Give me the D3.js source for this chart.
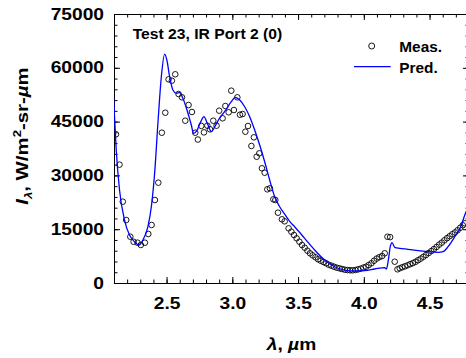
<!doctype html>
<html>
<head>
<script type='text/javascript' src='https://d3js.org/d3.v7.min.js'></script>
<style>
body { margin: 0; background: #fff; }
text { font-family: 'Liberation Sans', Arial, sans-serif; font-weight: bold; fill: #000; }
</style>
</head>
<body>
<script>
var width = 466, height = 358;
var margin = {left: 114, top: 14, right: 469, bottom: 283};

// measured spectrum (open circles)
var measLam = [2.115, 2.142, 2.167, 2.193, 2.224, 2.249, 2.279, 2.304, 2.335, 2.361,
  2.386, 2.411, 2.437, 2.464, 2.490, 2.515, 2.540, 2.566, 2.591, 2.617,
  2.642, 2.667, 2.693, 2.718, 2.738, 2.764, 2.784, 2.810, 2.830, 2.855,
  2.880, 2.900, 2.926, 2.947, 2.972, 2.992, 3.012, 3.038, 3.058, 3.078,
  3.099, 3.119, 3.145, 3.164, 3.185, 3.205, 3.225, 3.246, 3.266, 3.286,
  3.312, 3.327, 3.347, 3.377, 3.398, 3.428, 3.449, 3.469, 3.489, 3.510,
  3.530, 3.550, 3.571, 3.591, 3.611, 3.632, 3.652, 3.672, 3.693, 3.713,
  3.733, 3.753, 3.773, 3.794, 3.814, 3.834, 3.855, 3.875, 3.895, 3.915,
  3.936, 3.956, 3.976, 3.997, 4.017, 4.037, 4.058, 4.078, 4.098, 4.118,
  4.139, 4.159, 4.180, 4.200, 4.235, 4.256, 4.273, 4.293, 4.313, 4.333,
  4.353, 4.373, 4.393, 4.413, 4.433, 4.453, 4.473, 4.493, 4.513, 4.533,
  4.553, 4.573, 4.593, 4.613, 4.633, 4.653, 4.673, 4.693, 4.713, 4.733,
  4.753, 4.768];
var measVal = [41460, 33000, 22670, 17560, 12900, 11500, 11240, 10600, 11240, 13660,
  16170, 23140, 27970, 41900, 47480, 56790, 56400, 58190, 52690, 51770,
  45250, 49620, 47680, 41900, 40000, 43800, 42000, 43860, 42850, 45250,
  43860, 48040, 45920, 49350, 47590, 53620, 48230, 51770, 46920, 47120,
  42180, 43770, 38200, 40620, 35210, 36150, 31980, 30750, 26120, 26400,
  23330, 23140, 19600, 17760, 17200, 15250, 14300, 13380, 12460, 11510,
  10590, 9840, 9000, 8280, 7720, 7170, 6610, 6220, 5850, 5490,
  5100, 4820, 4540, 4270, 4100, 3900, 3710, 3620, 3540, 3540,
  3620, 3800, 4000, 4300, 4540, 5000, 5500, 6200, 6800, 7200,
  7530, 8280, 12900, 12800, 5940, 3820, 4100, 4400, 4650, 4950,
  5250, 5550, 5900, 6350, 6800, 7300, 7800, 8350, 8900, 9450,
  10050, 10700, 11250, 11900, 12500, 13050, 13600, 14100, 14700, 15400,
  16100, 16640];

// predicted spectrum (blue line)
var predLam = [2.097, 2.117, 2.142, 2.180, 2.218, 2.256, 2.290, 2.320, 2.358, 2.384,
  2.409, 2.434, 2.460, 2.485, 2.502, 2.523, 2.548, 2.574, 2.599, 2.624,
  2.655, 2.688, 2.705, 2.730, 2.760, 2.784, 2.810, 2.840, 2.870, 2.900,
  2.941, 2.992, 3.023, 3.056, 3.094, 3.132, 3.170, 3.208, 3.246, 3.284,
  3.322, 3.360, 3.398, 3.449, 3.474, 3.550, 3.626, 3.702, 3.778, 3.855,
  3.931, 4.007, 4.083, 4.159, 4.172, 4.187, 4.202, 4.215, 4.235, 4.273,
  4.337, 4.413, 4.489, 4.565, 4.603, 4.641, 4.692, 4.737, 4.768, 4.800];
var predVal = [51500, 37080, 25930, 17560, 13380, 11510, 10590, 11990, 15700, 21270,
  30580, 44520, 57520, 63840, 62170, 57520, 53800, 52890, 53060, 51500,
  48230, 44050, 41700, 42500, 45000, 46400, 44500, 42200, 43800, 45800,
  47760, 50550, 51770, 51020, 49150, 46370, 42660, 38470, 33820, 28720,
  24060, 21270, 19200, 16640, 15700, 12460, 9200, 6410, 4540, 3620,
  3350, 3430, 3900, 4300, 3900, 6500, 10300, 11240, 9950, 9670,
  9400, 9000, 8730, 8560, 8730, 10120, 12910, 15700, 18960, 21800];

var xTicks = [2.5, 3.0, 3.5, 4.0, 4.5];
var xTickLabels = ['2.5', '3.0', '3.5', '4.0', '4.5'];
var yTicks = [0, 15000, 30000, 45000, 60000, 75000];
var xMinor = d3.range(21, 49).map(function(d) { return d / 10; });
var yMinor = d3.range(0, 75001, 3000);

var svg = d3.select('body').append('svg').attr('width', width).attr('height', height);

var x = d3.scaleLinear().domain([2.1, 4.8]).range([margin.left, margin.right]);
var y = d3.scaleLinear().domain([0, 75000]).range([margin.bottom, margin.top]);

svg.append('clipPath').attr('id', 'clip').append('rect')
  .attr('x', margin.left).attr('y', margin.top)
  .attr('width', margin.right - margin.left).attr('height', margin.bottom - margin.top);

// axes, ticks pointing inward on all four sides
function styleAxis(g) {
  g.selectAll('path, line').attr('stroke', '#000').attr('stroke-width', 1);
  g.selectAll('text').remove();
}
svg.append('g').attr('transform', 'translate(0,' + margin.bottom + ')')
  .call(d3.axisBottom(x).tickValues(xMinor).tickSize(-3.5).tickSizeOuter(0)).call(styleAxis);
var xb = svg.append('g').attr('transform', 'translate(0,' + margin.bottom + ')')
  .call(d3.axisBottom(x).tickValues(xTicks).tickSize(-6).tickSizeOuter(0).tickPadding(15)
    .tickFormat(function(d, i) { return xTickLabels[i]; }));
xb.selectAll('line, path').attr('stroke', '#000');
xb.selectAll('text').attr('font-size', 16).attr('transform', 'scale(1.2,1)');

svg.append('g').attr('transform', 'translate(0,' + margin.top + ')')
  .call(d3.axisTop(x).tickValues(xMinor).tickSize(-3.5).tickSizeOuter(0)).call(styleAxis);
svg.append('g').attr('transform', 'translate(0,' + margin.top + ')')
  .call(d3.axisTop(x).tickValues(xTicks).tickSize(-6).tickSizeOuter(0)).call(styleAxis);

svg.append('g').attr('transform', 'translate(' + margin.left + ',0)')
  .call(d3.axisLeft(y).tickValues(yMinor).tickSize(-3.5).tickSizeOuter(0)).call(styleAxis);
var yl = svg.append('g').attr('transform', 'translate(' + margin.left + ',0)')
  .call(d3.axisLeft(y).tickValues(yTicks).tickSize(-6).tickSizeOuter(0).tickFormat(d3.format('d')));
yl.selectAll('line, path').attr('stroke', '#000');
yl.selectAll('text').attr('font-size', 16).attr('x', -8.3).attr('transform', 'scale(1.2,1)');

svg.append('g').attr('transform', 'translate(' + margin.right + ',0)')
  .call(d3.axisRight(y).tickValues(yMinor).tickSize(-3.5).tickSizeOuter(0)).call(styleAxis);
svg.append('g').attr('transform', 'translate(' + margin.right + ',0)')
  .call(d3.axisRight(y).tickValues(yTicks).tickSize(-6).tickSizeOuter(0)).call(styleAxis);

var plot = svg.append('g').attr('clip-path', 'url(#clip)');

// measured circles
plot.selectAll('circle.meas')
  .data(measLam)
  .join('circle')
  .attr('class', 'meas')
  .attr('cx', function(d) { return x(d); })
  .attr('cy', function(d, i) { return y(measVal[i]); })
  .attr('r', 2.8)
  .attr('fill', 'none')
  .attr('stroke', '#000')
  .attr('stroke-width', 0.9);

// predicted line
var line = d3.line()
  .x(function(d) { return x(d); })
  .y(function(d, i) { return y(predVal[i]); })
  .curve(d3.curveMonotoneX);
plot.append('path')
  .datum(predLam)
  .attr('d', line)
  .attr('fill', 'none')
  .attr('stroke', '#0000ff')
  .attr('stroke-width', 1.3);

// title
svg.append('text').attr('transform', 'translate(132.7,39.3) scale(1.12,1)')
  .attr('font-size', 14).text('Test 23, IR Port 2 (0)');

// legend
svg.append('circle').attr('cx', 371.7).attr('cy', 46).attr('r', 3)
  .attr('fill', 'none').attr('stroke', '#000').attr('stroke-width', 0.9);
svg.append('text').attr('transform', 'translate(399.3,52.3) scale(1.1,1)')
  .attr('font-size', 14).text('Meas.');
svg.append('line').attr('x1', 354).attr('x2', 390.7).attr('y1', 66.7).attr('y2', 66.7)
  .attr('stroke', '#0000ff').attr('stroke-width', 1.3);
svg.append('text').attr('transform', 'translate(399.3,72.7) scale(1.1,1)')
  .attr('font-size', 14).text('Pred.');

// x axis title
var xt = svg.append('text').attr('transform', 'translate(291.5,350) scale(1.2,1)')
  .attr('font-size', 16).attr('text-anchor', 'middle');
xt.append('tspan').attr('font-style', 'italic').text('λ');
xt.append('tspan').text(', ');
xt.append('tspan').attr('font-style', 'italic').text('µ');
xt.append('tspan').text('m');

// y axis title (stretched along its reading direction like the tick labels)
var yt = svg.append('text').attr('transform', 'translate(28,136) rotate(-90) scale(1.2,1)')
  .attr('font-size', 17).attr('text-anchor', 'middle');
yt.append('tspan').attr('font-style', 'italic').text('I');
yt.append('tspan').attr('font-style', 'italic').attr('font-size', 11).attr('dy', 4).text('λ');
yt.append('tspan').attr('dy', -4).text(', W/m');
yt.append('tspan').attr('font-size', 11).attr('dy', -7).text('2');
yt.append('tspan').attr('dy', 7).text('-sr-');
yt.append('tspan').attr('font-style', 'italic').text('µ');
yt.append('tspan').text('m');
</script>
</body>
</html>
